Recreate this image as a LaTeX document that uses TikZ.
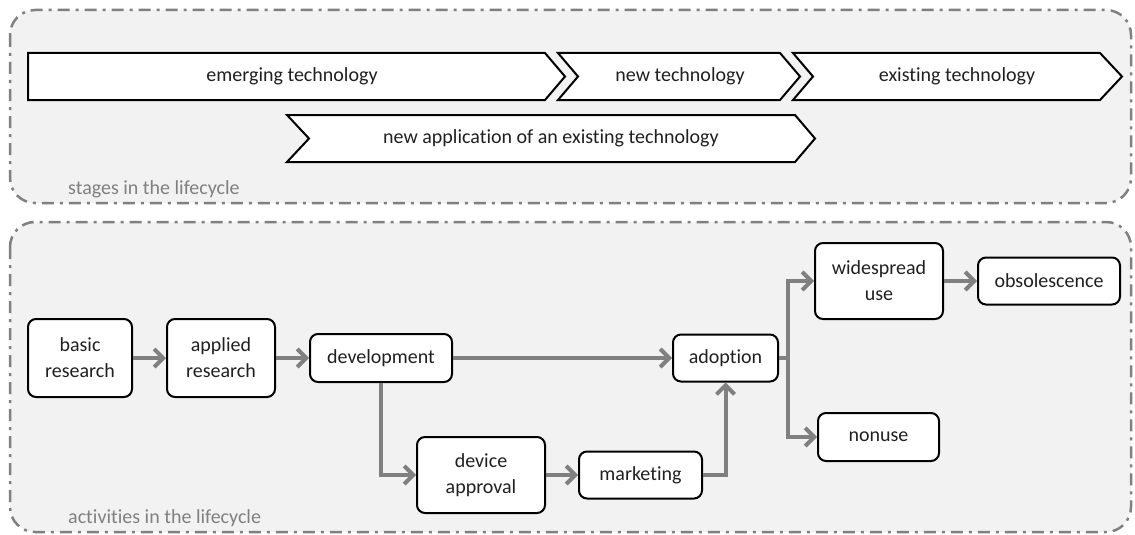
\documentclass[tikz,border=0pt]{standalone}
\usepackage{fontspec}
\setmainfont{Carlito}[Ligatures=NoCommon]
\usetikzlibrary{arrows.meta}
\definecolor{panelfill}{HTML}{F2F2F2}
\definecolor{linegray}{HTML}{808080}
\definecolor{txt}{HTML}{202020}
\begin{document}
\begin{tikzpicture}[x=1pt,y=-1pt,
 panel/.style={draw=linegray, line width=2.5pt, fill=panelfill, rounded corners=25pt, dash pattern=on 12pt off 6pt on 3pt off 6pt},
 chev/.style={draw=black, line width=2pt, fill=white, line join=miter},
 box/.style={draw=black, line width=2pt, fill=white, rounded corners=8pt, align=center, inner sep=0pt, font=\fontsize{20}{26}\selectfont, text=txt},
 lbl/.style={font=\fontsize{20}{24}\selectfont, text=txt, inner sep=0pt},
 paneltitle/.style={font=\fontsize{20}{24}\selectfont, text=linegray, anchor=base west, inner sep=0pt},
 flow/.style={draw=linegray, line width=4pt, -{Straight Barb[length=9pt,width=18pt]}}
]
\useasboundingbox (0,0) rectangle (1135,535);
% panels
\path[panel] (10,10) rectangle (1131,203);
\path[panel] (10,222) rectangle (1131,532);
\node[paneltitle] (stagesT) at (68,194) {stages in the lifecycle};
\node[paneltitle] (actT) at (68,523) {activities in the lifecycle};
% chevrons
\path[chev] (28,53) -- (545,53) -- (565,76.5) -- (545,100) -- (28,100) -- cycle;
\path[chev] (558,53) -- (780,53) -- (800,76.5) -- (780,100) -- (558,100) -- (578,76.5) -- cycle;
\path[chev] (793,53) -- (1100,53) -- (1122,76.5) -- (1100,100) -- (793,100) -- (813,76.5) -- cycle;
\path[chev] (287,115) -- (795,115) -- (815,138.5) -- (795,162) -- (287,162) -- (309,138.5) -- cycle;
\node[lbl] (emerg) at (292,76.5) {emerging technology};
\node[lbl] (newt) at (680,76.5) {new technology};
\node[lbl] (exist) at (957,76.5) {existing technology};
\node[lbl] (newapp) at (551,138.5) {new application of an existing technology};
% activity boxes
\node[box, minimum width=104pt, minimum height=78pt] (basic) at (80,358) {basic\\research};
\node[box, minimum width=108pt, minimum height=78pt] (applied) at (221,358) {applied\\research};
\node[box, minimum width=142pt, minimum height=48pt] (dev) at (381,358) {development};
\node[box, minimum width=105pt, minimum height=47pt] (adopt) at (725.5,358) {adoption};
\node[box, minimum width=128pt, minimum height=76pt] (device) at (481,475) {device\\approval};
\node[box, minimum width=123pt, minimum height=47pt] (mkt) at (640.5,475) {marketing};
\node[box, minimum width=128pt, minimum height=76pt] (wide) at (879,281) {widespread\\use};
\node[box, minimum width=142pt, minimum height=47pt] (obs) at (1049,281) {obsolescence};
\node[box, minimum width=121pt, minimum height=48pt] (nonuse) at (878.5,437) {nonuse};
\coordinate (split) at (788,358);
% connectors
\draw[flow] (basic) -- (applied);
\draw[flow] (applied) -- (dev);
\draw[flow] (dev) -- (adopt);
\draw[flow] (dev.south) |- (device.west);
\draw[flow] (device) -- (mkt);
\draw[flow] (mkt.east) -| (adopt.south);
\draw[flow] (adopt.east) -- (split) |- (wide.west);
\draw[flow] (split) |- (nonuse.west);
\draw[flow] (wide) -- (obs);
\end{tikzpicture}
\end{document}
